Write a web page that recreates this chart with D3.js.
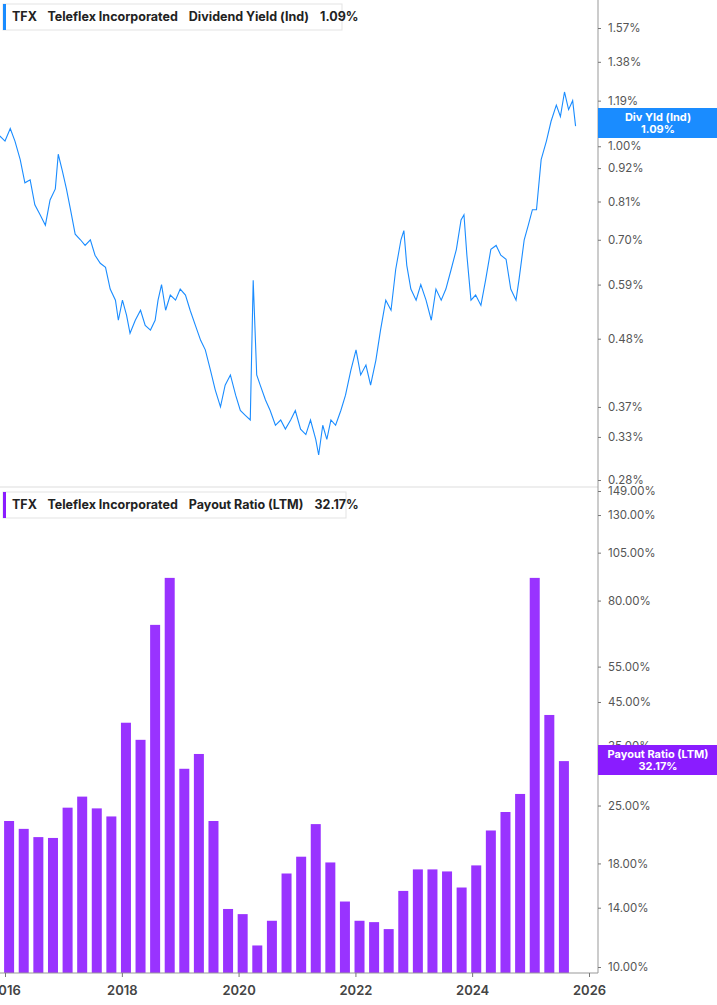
<!DOCTYPE html>
<html><head><meta charset="utf-8">
<script src="https://cdn.jsdelivr.net/npm/d3@7"></script>
<style>body{margin:0;background:#fff;font-family:Inter,"Noto Sans",sans-serif}</style>
</head><body><svg id="c" width="717" height="1005"></svg>
<script>
// dividend yield trace (fractional year, %)
var yieldYears = [2015.91,2016,2016.09,2016.17,2016.26,2016.34,2016.43,2016.51,2016.6,2016.69,2016.77,2016.86,2016.91,2016.98,2017.05,2017.12,2017.2,2017.29,2017.37,2017.46,2017.54,2017.63,2017.72,2017.8,2017.89,2017.94,2018.01,2018.08,2018.14,2018.23,2018.32,2018.4,2018.49,2018.57,2018.62,2018.68,2018.75,2018.83,2018.92,2019,2019.09,2019.17,2019.26,2019.35,2019.43,2019.52,2019.6,2019.69,2019.77,2019.86,2019.95,2020.03,2020.12,2020.2,2020.25,2020.31,2020.37,2020.46,2020.54,2020.63,2020.72,2020.8,2020.89,2020.97,2021.06,2021.15,2021.23,2021.32,2021.37,2021.44,2021.51,2021.58,2021.66,2021.75,2021.83,2021.92,2022.01,2022.09,2022.18,2022.26,2022.35,2022.43,2022.52,2022.61,2022.69,2022.78,2022.83,2022.88,2022.95,2023.04,2023.12,2023.21,2023.3,2023.38,2023.47,2023.55,2023.64,2023.73,2023.81,2023.86,2023.91,2023.98,2024.06,2024.15,2024.23,2024.32,2024.41,2024.49,2024.58,2024.66,2024.75,2024.8,2024.89,2024.96,2025.03,2025.1,2025.18,2025.27,2025.35,2025.44,2025.51,2025.58,2025.65,2025.72,2025.77];
var yieldVals = [1.04,1.02,1.07,1.02,0.95,0.87,0.88,0.80,0.77,0.74,0.815,0.85,0.97,0.91,0.85,0.785,0.715,0.70,0.685,0.70,0.66,0.64,0.63,0.58,0.556,0.515,0.556,0.525,0.49,0.515,0.535,0.505,0.496,0.515,0.556,0.59,0.535,0.567,0.556,0.58,0.567,0.535,0.505,0.477,0.46,0.425,0.395,0.37,0.402,0.418,0.387,0.365,0.358,0.352,0.60,0.418,0.402,0.38,0.365,0.345,0.352,0.34,0.352,0.365,0.34,0.333,0.352,0.327,0.308,0.345,0.327,0.352,0.345,0.365,0.387,0.425,0.46,0.418,0.434,0.402,0.442,0.496,0.556,0.535,0.625,0.70,0.725,0.635,0.58,0.556,0.59,0.556,0.515,0.58,0.556,0.58,0.625,0.675,0.755,0.77,0.66,0.556,0.567,0.545,0.60,0.675,0.685,0.66,0.65,0.58,0.556,0.60,0.70,0.74,0.785,0.785,0.95,1.02,1.10,1.17,1.12,1.23,1.15,1.19,1.08,1.03];
// payout ratio (LTM), quarterly from Q1 2016
var payoutVals = [22.9,21.9,20.9,20.8,24.7,26.3,24.6,23.5,40.0,36.3,69.7,91.0,30.8,33.5,22.9,13.9,13.5,11.3,13.0,17.0,18.7,22.5,18.1,14.5,13.0,12.9,12.4,15.4,17.4,17.4,17.2,15.7,17.8,21.7,24.1,26.7,91.0,41.8,32.17];
var yieldTicks = [1.57,1.38,1.19,1.00,0.92,0.81,0.70,0.59,0.48,0.37,0.33,0.28];
var payoutTicks = [149,130,105,80,55,45,35,25,18,14,10];
var yearTicks = [2016,2018,2020,2022,2024,2026];

var svg = d3.select("#c");
var axX = 598;
function yr(y){ var d = new Date(Math.floor(y),0,1), e = new Date(Math.floor(y)+1,0,1); return new Date(+d + (y%1)*(e-d)); }
var x = d3.scaleTime().domain([yr(2016), yr(2026)]).range([5, 589]);
var y1 = d3.scaleLog().domain([0.28, 1.57]).range([480, 28]);
var y2 = d3.scaleLog().domain([10, 149]).range([967, 491]);

svg.append("g").append("path")
  .datum(d3.zip(yieldYears, yieldVals))
  .attr("fill","none").attr("stroke","#1a8cff").attr("stroke-width",1.1)
  .attr("d", d3.line().x(function(d){return x(yr(d[0]));}).y(function(d){return y1(d[1]);}));

svg.append("g").selectAll("rect").data(payoutVals).enter().append("rect")
  .attr("x", function(d,i){ return x(yr(2016.07 + i*0.25)) - 5; })
  .attr("width", 10)
  .attr("y", function(d){ return y2(d); })
  .attr("height", function(d){ return 973 - y2(d); })
  .attr("fill", "#9933ff");

svg.append("line").attr("x1",0).attr("x2",axX).attr("y1",487).attr("y2",487).attr("stroke","#ddd");
svg.append("line").attr("x1",axX).attr("x2",axX).attr("y1",0).attr("y2",973).attr("stroke","#999");
svg.append("line").attr("x1",0).attr("x2",axX).attr("y1",973).attr("y2",973).attr("stroke","#999");

var a1 = svg.append("g").attr("transform","translate("+axX+",0)")
  .call(d3.axisRight(y1).tickValues(yieldTicks).tickSize(3).tickFormat(function(d){return d.toFixed(2)+"%";}));
var a2 = svg.append("g").attr("transform","translate("+axX+",0)")
  .call(d3.axisRight(y2).tickValues(payoutTicks).tickSize(3).tickFormat(function(d){return d.toFixed(2)+"%";}));
[a1,a2].forEach(function(a){
  a.select(".domain").remove();
  a.selectAll("line").attr("stroke","#777");
  a.selectAll("text").attr("x",10).attr("fill","#555").style("font-size","11.5px").style("font-family","Inter,sans-serif");
});
var ax = svg.append("g").attr("transform","translate(0,973)")
  .call(d3.axisBottom(x).tickValues(yearTicks.map(function(v){return yr(v);})).tickSize(4).tickFormat(d3.timeFormat("%Y")));
ax.select(".domain").remove();
ax.selectAll("line").attr("stroke","#777");
ax.selectAll("text").attr("y",13).attr("fill","#444").style("font-size","13px").style("font-weight","600").style("font-family","Inter,sans-serif");

function badge(yc, col, l1, l2){
  svg.append("rect").attr("x",axX).attr("y",yc-15).attr("width",119).attr("height",30).attr("fill",col);
  svg.append("text").attr("x",658).attr("y",yc-2).attr("text-anchor","middle").attr("fill","#fff").style("font-size","11px").style("font-weight","700").text(l1);
  svg.append("text").attr("x",658).attr("y",yc+10).attr("text-anchor","middle").attr("fill","#fff").style("font-size","11px").style("font-weight","700").text(l2);
}
badge(123, "#1a8cff", "Div Yld (Ind)", "1.09%");
badge(760, "#8a1cff", "Payout Ratio (LTM)", "32.17%");

function legend(yt, col, w, parts){
  var g = svg.append("g");
  g.append("rect").attr("x",3).attr("y",yt).attr("width",w).attr("height",26).attr("fill","#fff").attr("stroke","#e3e3e3");
  g.append("rect").attr("x",3).attr("y",yt).attr("width",3).attr("height",26).attr("fill",col);
  var t = g.append("text").attr("x",12).attr("y",yt+17).attr("fill","#222").style("font-size","12.5px").style("font-weight","700");
  parts.forEach(function(p,i){ t.append("tspan").attr("dx", i ? 11 : 0).text(p); });
}
legend(4, "#1a8cff", 339, ["TFX","Teleflex Incorporated","Dividend Yield (Ind)","1.09%"]);
legend(492, "#8a1cff", 343, ["TFX","Teleflex Incorporated","Payout Ratio (LTM)","32.17%"]);
</script></body></html>
